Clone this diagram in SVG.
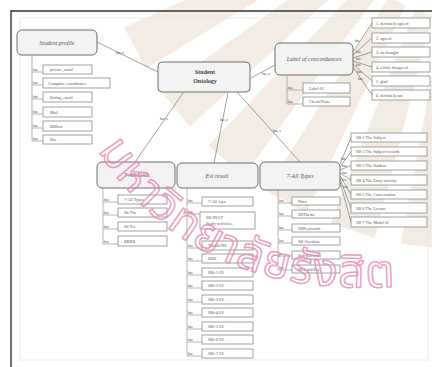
<svg xmlns="http://www.w3.org/2000/svg" width="432" height="367" viewBox="0 0 432 367">
  <style>
    .page { fill: #ffffff; }
    .frame { stroke: #333; stroke-width: 1.4; fill: none; }
    .inner { stroke: #e4e4e4; stroke-width: 0.8; fill: none; }
    .ray { fill: #cdb79a; opacity: 0.26; }
    .head { fill: #f3f3f3; stroke: #6e6e6e; stroke-width: 1; }
    .item { fill: #ffffff; stroke: #8a8a8a; stroke-width: 0.8; }
    .edge { stroke: #7a7a7a; stroke-width: 0.7; fill: none; }
    .bar { stroke: #9a9a9a; stroke-width: 0.7; fill: none; }
    .title { font-family: "Liberation Serif", serif; font-size: 6px; font-style: italic; fill: #555; text-anchor: middle; }
    .main { font-family: "Liberation Serif", serif; font-size: 6px; font-weight: bold; fill: #444; text-anchor: middle; }
    .txt { font-family: "Liberation Serif", serif; font-size: 4.2px; fill: #555; }
    .rel { font-family: "Liberation Serif", serif; font-size: 3.4px; fill: #444; }
    .wm { font-family: "Noto Sans Thai", "Noto Sans", "DejaVu Sans", sans-serif; font-size: 46px; letter-spacing: 1.5px; fill: none; stroke: #e58ab4; stroke-width: 1.5; opacity: 0.8; }
  </style>

  <rect class="page" x="0" y="0" width="432" height="367"/>

  <!-- background sunburst -->
  <g id="rays">
    <polygon class="ray" points="460.8,19.7 446.8,249.3 400.8,243.7 442.7,17.5"/>
    <polygon class="ray" points="432.4,15.2 374.8,237.9 330.7,223.6 415.0,9.6"/>
    <polygon class="ray" points="405.4,5.4 306.4,213.0 265.8,190.5 389.4,-3.5"/>
    <polygon class="ray" points="380.8,-9.4 244.0,175.5 208.4,145.7 366.7,-21.2"/>
    <polygon class="ray" points="359.4,-28.7 189.8,126.7 160.6,90.7 347.9,-42.9"/>
    <polygon class="ray" points="342.1,-51.6 146.0,68.6 124.2,27.6 333.5,-67.8"/>
  </g>

  <!-- page frame -->
  <g id="frame">
    <line class="frame" x1="11" y1="11" x2="432" y2="11"/>
    <line class="frame" x1="11" y1="10.3" x2="11" y2="367"/>
    <rect class="inner" x="20" y="18" width="408" height="342"/>
  </g>

  <!-- connectors -->
  <g id="connectors">
    <line class="edge" x1="97" y1="42" x2="158" y2="72"/>
    <line class="edge" x1="251" y1="78" x2="275" y2="65"/>
    <line class="edge" x1="183" y1="93" x2="135" y2="162"/>
    <line class="edge" x1="228" y1="93" x2="214" y2="163"/>
    <line class="edge" x1="237" y1="92" x2="300" y2="162"/>
    <text class="rel" x="116" y="54">has_a</text>
    <text class="rel" x="262" y="75">has_a</text>
    <text class="rel" x="160" y="120">has_a</text>
    <text class="rel" x="220" y="121">has_a</text>
    <text class="rel" x="273" y="132">has_a</text>

    <!-- fan to concordance levels -->
    <line class="edge" x1="353" y1="52" x2="372" y2="23"/>
    <line class="edge" x1="353" y1="55" x2="372" y2="38"/>
    <line class="edge" x1="353" y1="58" x2="372" y2="52"/>
    <line class="edge" x1="353" y1="61" x2="372" y2="67"/>
    <line class="edge" x1="353" y1="64" x2="372" y2="81"/>
    <line class="edge" x1="353" y1="67" x2="372" y2="95"/>
    <text class="rel" x="355" y="42">has</text>
    <text class="rel" x="356" y="53">has</text>
    <text class="rel" x="356" y="60">has</text>
    <text class="rel" x="356" y="66">has</text>
    <text class="rel" x="357" y="73">has</text>
    <text class="rel" x="358" y="80">has</text>

    <!-- fan to SB types -->
    <line class="edge" x1="340" y1="164" x2="351" y2="137.5"/>
    <line class="edge" x1="340" y1="167" x2="351" y2="151.5"/>
    <line class="edge" x1="340" y1="170" x2="351" y2="165.5"/>
    <line class="edge" x1="340" y1="173" x2="351" y2="180"/>
    <line class="edge" x1="340" y1="176" x2="351" y2="194.5"/>
    <line class="edge" x1="340" y1="179" x2="351" y2="208"/>
    <line class="edge" x1="340" y1="182" x2="351" y2="222"/>
    <text class="rel" x="341" y="160">has</text>
    <text class="rel" x="342" y="167">has</text>
    <text class="rel" x="342" y="174">has</text>
    <text class="rel" x="342" y="181">has</text>
    <text class="rel" x="343" y="188">has</text>
  </g>

  <!-- central concept -->
  <g id="student-ontology">
    <rect class="head" x="158" y="62" width="92" height="30" rx="4"/>
    <text class="main" x="205" y="74">Student</text>
    <text class="main" x="205" y="83">Ontology</text>
  </g>

  <!-- student profile branch -->
  <g id="student-profile">
    <rect class="head" x="17" y="30" width="80" height="25" rx="5"/>
    <text class="title" x="57" y="44.5">Student profile</text>
    <line class="bar" x1="32" y1="55" x2="32" y2="141"/>
    <g>
      <line class="bar" x1="32" y1="72" x2="43" y2="72"/><text class="rel" x="33" y="71">has</text>
      <rect class="item" x="43" y="65" width="49" height="9"/><text class="txt" x="50" y="71">private_email</text>
      <line class="bar" x1="32" y1="85" x2="43" y2="85"/><text class="rel" x="33" y="84">has</text>
      <rect class="item" x="43" y="78" width="67" height="10"/><text class="txt" x="48" y="84.5">Computer_coordinates</text>
      <line class="bar" x1="32" y1="99" x2="43" y2="99"/><text class="rel" x="33" y="98">has</text>
      <rect class="item" x="43" y="92" width="49" height="10"/><text class="txt" x="50" y="98.5">Rating_email</text>
      <line class="bar" x1="32" y1="114" x2="43" y2="114"/><text class="rel" x="33" y="113">has</text>
      <rect class="item" x="43" y="107" width="49" height="10"/><text class="txt" x="50" y="113.5">Mail</text>
      <line class="bar" x1="32" y1="128" x2="43" y2="128"/><text class="rel" x="33" y="127">has</text>
      <rect class="item" x="43" y="121" width="49" height="10"/><text class="txt" x="50" y="127.5">Billbox</text>
      <line class="bar" x1="32" y1="141" x2="43" y2="141"/><text class="rel" x="33" y="140">has</text>
      <rect class="item" x="43" y="135" width="49" height="9"/><text class="txt" x="50" y="141">Bio</text>
    </g>
  </g>

  <!-- label of concordances branch -->
  <g id="label-of-concordances">
    <rect class="head" x="275" y="43" width="78" height="32" rx="5"/>
    <text class="title" x="314" y="61">Label of concordances</text>
    <rect class="item" x="372" y="18" width="58" height="10"/><text class="txt" x="376" y="24.5">1. definitely agreed</text>
    <rect class="item" x="372" y="33" width="58" height="10"/><text class="txt" x="376" y="39.5">2. agreed</text>
    <rect class="item" x="372" y="47" width="58" height="10"/><text class="txt" x="376" y="53.5">3. no thought</text>
    <rect class="item" x="372" y="62" width="58" height="10"/><text class="txt" x="376" y="68.5">4. a little disagreed</text>
    <rect class="item" x="372" y="76" width="58" height="10"/><text class="txt" x="376" y="82.5">5. glad</text>
    <rect class="item" x="372" y="90" width="58" height="10"/><text class="txt" x="376" y="96.5">6. definitely not</text>
    <line class="bar" x1="287" y1="75" x2="287" y2="104"/>
    <line class="bar" x1="287" y1="90" x2="303" y2="90"/><text class="rel" x="288" y="89">has</text>
    <rect class="item" x="303" y="83" width="47" height="10"/><text class="txt" x="309" y="89.5">Label-01</text>
    <line class="bar" x1="287" y1="104" x2="303" y2="104"/><text class="rel" x="288" y="103">has</text>
    <rect class="item" x="303" y="97" width="47" height="9"/><text class="txt" x="309" y="103">Check/None</text>
  </g>

  <!-- 7-All DAT branch -->
  <g id="all-dat">
    <rect class="head" x="97" y="162" width="78" height="26" rx="5"/>
    <text class="title" x="136" y="177">7-All DAT</text>
    <line class="bar" x1="103" y1="188" x2="103" y2="244"/>
    <line class="bar" x1="103" y1="202" x2="118" y2="202"/><text class="rel" x="104" y="201">has</text>
    <rect class="item" x="118" y="195" width="49" height="9"/><text class="txt" x="124" y="201">7-All Types</text>
    <line class="bar" x1="103" y1="215" x2="118" y2="215"/><text class="rel" x="104" y="214">has</text>
    <rect class="item" x="118" y="208" width="49" height="9"/><text class="txt" x="124" y="214">Sb-Tfa</text>
    <line class="bar" x1="103" y1="229" x2="118" y2="229"/><text class="rel" x="104" y="228">has</text>
    <rect class="item" x="118" y="222" width="49" height="9"/><text class="txt" x="124" y="228">Sb-Tee</text>
    <line class="bar" x1="103" y1="244" x2="118" y2="244"/><text class="rel" x="104" y="243">has</text>
    <rect class="item" x="118" y="236" width="49" height="10"/><text class="txt" x="124" y="242.5">BBBB</text>
  </g>

  <!-- Evi result branch -->
  <g id="evi-result">
    <rect class="head" x="177" y="163" width="81" height="25" rx="5"/>
    <text class="title" x="217" y="177.5">Evi result</text>
    <line class="bar" x1="187" y1="188" x2="187" y2="356"/>
    <line class="bar" x1="187" y1="203" x2="202" y2="203"/><text class="rel" x="188" y="202">has</text>
    <rect class="item" x="202" y="197" width="51" height="9"/><text class="txt" x="208" y="203">7-All Ajax</text>
    <line class="bar" x1="187" y1="214" x2="200" y2="214"/><text class="rel" x="188" y="213">has</text>
    <rect class="item" x="200" y="212" width="55" height="17"/><text class="txt" x="206" y="219">SB-IN-LT</text><text class="txt" x="206" y="225">Study-activities</text>
    <line class="bar" x1="187" y1="248" x2="202" y2="248"/><text class="rel" x="188" y="247">has</text>
    <rect class="item" x="202" y="241" width="51" height="9"/><text class="txt" x="208" y="247">Tradeb-NS</text>
    <line class="bar" x1="187" y1="261" x2="202" y2="261"/><text class="rel" x="188" y="260">has</text>
    <rect class="item" x="202" y="254" width="51" height="9"/><text class="txt" x="208" y="260">DOS</text>
    <line class="bar" x1="187" y1="275" x2="202" y2="275"/><text class="rel" x="188" y="274">has</text>
    <rect class="item" x="202" y="268" width="51" height="9"/><text class="txt" x="208" y="274">SBt-1-LV</text>
    <line class="bar" x1="187" y1="288" x2="202" y2="288"/><text class="rel" x="188" y="287">has</text>
    <rect class="item" x="202" y="281" width="51" height="9"/><text class="txt" x="208" y="287">SBt-2-LV</text>
    <line class="bar" x1="187" y1="302" x2="202" y2="302"/><text class="rel" x="188" y="301">has</text>
    <rect class="item" x="202" y="295" width="51" height="9"/><text class="txt" x="208" y="301">SBt-3-LV</text>
    <line class="bar" x1="187" y1="315" x2="202" y2="315"/><text class="rel" x="188" y="314">has</text>
    <rect class="item" x="202" y="308" width="51" height="9"/><text class="txt" x="208" y="314">SBt-4-LV</text>
    <line class="bar" x1="187" y1="329" x2="202" y2="329"/><text class="rel" x="188" y="328">has</text>
    <rect class="item" x="202" y="322" width="51" height="9"/><text class="txt" x="208" y="328">SBt-5-LV</text>
    <line class="bar" x1="187" y1="342" x2="202" y2="342"/><text class="rel" x="188" y="341">has</text>
    <rect class="item" x="202" y="335" width="51" height="9"/><text class="txt" x="208" y="341">SBt-6-LV</text>
    <line class="bar" x1="187" y1="356" x2="202" y2="356"/><text class="rel" x="188" y="355">has</text>
    <rect class="item" x="202" y="349" width="51" height="9"/><text class="txt" x="208" y="355">SBt-7-LV</text>
  </g>

  <!-- 7-All Types branch -->
  <g id="all-types">
    <rect class="head" x="260" y="162" width="80" height="28" rx="5"/>
    <text class="title" x="300" y="178">7-All Types</text>
    <rect class="item" x="351" y="133" width="76" height="9"/><text class="txt" x="356" y="139">SB-1 The Subject</text>
    <rect class="item" x="351" y="147" width="76" height="9"/><text class="txt" x="356" y="153">SB-2 The Subject-records</text>
    <rect class="item" x="351" y="161" width="76" height="9"/><text class="txt" x="356" y="167">SB-3 The Student</text>
    <rect class="item" x="351" y="175" width="76" height="10"/><text class="txt" x="356" y="181.5">SB-4 The Entry-activity</text>
    <rect class="item" x="351" y="190" width="76" height="9"/><text class="txt" x="356" y="196">SB-5 The Conversation</text>
    <rect class="item" x="351" y="203" width="76" height="10"/><text class="txt" x="356" y="209.5">SB-6 The Lecture</text>
    <rect class="item" x="351" y="217" width="76" height="10"/><text class="txt" x="356" y="223.5">SB-7 The Model-D</text>
    <line class="bar" x1="278" y1="190" x2="278" y2="270"/>
    <line class="bar" x1="278" y1="203" x2="292" y2="203"/><text class="rel" x="279" y="202">has</text>
    <rect class="item" x="292" y="197" width="48" height="8"/><text class="txt" x="298" y="202.5">Nitro</text>
    <line class="bar" x1="278" y1="216" x2="292" y2="216"/><text class="rel" x="279" y="215">has</text>
    <rect class="item" x="292" y="210" width="48" height="8"/><text class="txt" x="298" y="215.5">SBTheme</text>
    <line class="bar" x1="278" y1="230" x2="292" y2="230"/><text class="rel" x="279" y="229">has</text>
    <rect class="item" x="292" y="224" width="48" height="8"/><text class="txt" x="298" y="229.5">SBKeywords</text>
    <line class="bar" x1="278" y1="243" x2="292" y2="243"/><text class="rel" x="279" y="242">has</text>
    <rect class="item" x="292" y="237" width="48" height="8"/><text class="txt" x="298" y="242.5">SB-Vocation</text>
    <line class="bar" x1="278" y1="256" x2="292" y2="256"/><text class="rel" x="279" y="255">has</text>
    <rect class="item" x="292" y="251" width="48" height="8"/><text class="txt" x="298" y="256.5">Sub-Recorder</text>
    <line class="bar" x1="278" y1="270" x2="292" y2="270"/><text class="rel" x="279" y="269">has</text>
    <rect class="item" x="292" y="265" width="48" height="8"/><text class="txt" x="298" y="270.5">SBTeachToy</text>
  </g>

  <!-- university watermark -->
  <g id="watermark">
    <path id="wm-path" d="M 98 150 Q 200 310 424 284" fill="none"/>
    <text class="wm"><textPath href="#wm-path">มหาวิทยาลัยรังสิต</textPath></text>
  </g>
</svg>
